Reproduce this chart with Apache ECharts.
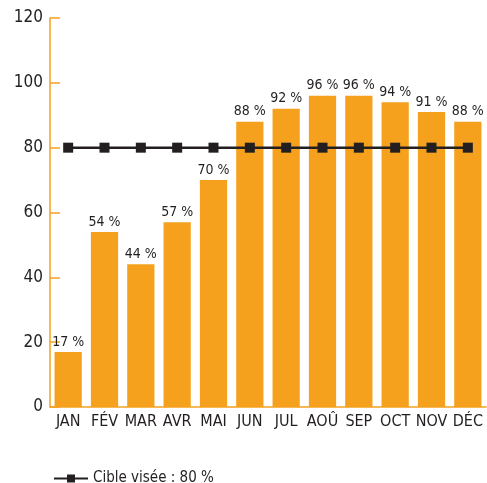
<!DOCTYPE html>
<html>
<head>
<meta charset="utf-8">
<script src="https://cdn.jsdelivr.net/npm/echarts@6/dist/echarts.min.js"></script>
<style>
  html, body { margin: 0; padding: 0; background: #fff; }
  #chart { width: 487px; height: 483px; }
</style>
</head>
<body>
<div id="chart"></div>
<script>
const months = ['JAN', 'FÉV', 'MAR', 'AVR', 'MAI', 'JUN', 'JUL', 'AOÛ', 'SEP', 'OCT', 'NOV', 'DÉC']
const rates = [17, 54, 44, 57, 70, 88, 92, 96, 96, 94, 91, 88]
const target = [80, 80, 80, 80, 80, 80, 80, 80, 80, 80, 80, 80]
const yTicks = [0, 20, 40, 60, 80, 100, 120]

const font = '"DejaVu Sans Condensed", "Liberation Sans Narrow", sans-serif'
const orange = '#f5a11e'
const dark = '#231f20'

const chart = echarts.init(document.getElementById('chart'))
chart.setOption({
  animation: false,
  textStyle: { fontFamily: font },
  grid: { left: 50, right: 1, top: 18, bottom: 76 },
  legend: {
    data: ['Cible visée : 80 %'],
    left: 48,
    top: 466,
    itemWidth: 34,
    itemHeight: 10,
    itemGap: 10,
    textStyle: { fontFamily: font, fontSize: 15, color: dark }
  },
  xAxis: {
    type: 'category',
    data: months,
    axisLine: { lineStyle: { color: orange, width: 1.5 } },
    axisTick: { inside: true, length: 8, lineStyle: { color: orange } },
    axisLabel: { interval: 0, color: dark, fontSize: 16, margin: 7, fontFamily: font }
  },
  yAxis: {
    type: 'value',
    min: yTicks[0],
    max: yTicks[yTicks.length - 1],
    interval: 20,
    splitLine: { show: false },
    axisLine: { show: true, lineStyle: { color: orange, width: 1.5 } },
    axisTick: { show: true, inside: true, length: 10, lineStyle: { color: orange, width: 1.5 } },
    axisLabel: { color: dark, fontSize: 17, fontWeight: 500, margin: 7, fontFamily: font }
  },
  series: [
    {
      name: 'Taux',
      type: 'bar',
      data: rates,
      barCategoryGap: '25%',
      itemStyle: { color: orange },
      label: {
        show: true,
        position: 'top',
        distance: 3,
        formatter: p => p.value + ' %',
        color: dark,
        fontSize: 14,
        fontFamily: font
      }
    },
    {
      name: 'Cible visée : 80 %',
      type: 'line',
      data: target,
      symbol: 'rect',
      symbolSize: 10,
      lineStyle: { color: dark, width: 2.5 },
      itemStyle: { color: dark },
      z: 5
    }
  ]
})
</script>
</body>
</html>
